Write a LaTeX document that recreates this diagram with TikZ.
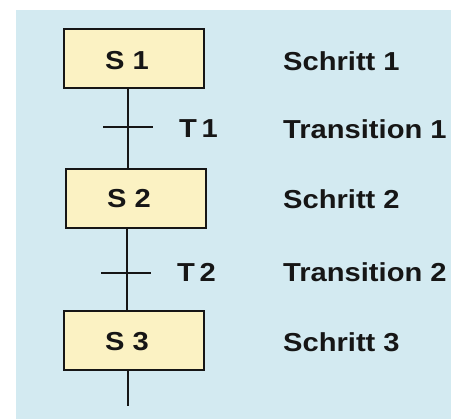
\documentclass[tikz,border=0pt]{standalone}
\usepackage{fontspec}
\setmainfont{Liberation Sans}[FakeStretch=1.12]
\definecolor{panel}{HTML}{D3EAF1}
\definecolor{stepfill}{HTML}{FBF2C3}
\definecolor{ink}{HTML}{161616}
\begin{document}
\begin{tikzpicture}[x=1pt,y=-1pt,
  stepbox/.style={draw=ink,line width=2pt,fill=stepfill,minimum width=140pt,minimum height=59pt,inner sep=0pt},
  txt/.style={font=\fontsize{26}{28}\selectfont\bfseries,text=ink,inner sep=0pt},
  flow/.style={draw=ink,line width=2pt}]
  % page and panel
  \useasboundingbox (0,0) rectangle (451,419);
  \fill[white] (0,0) rectangle (451,419);
  \fill[panel] (16,10) rectangle (451,419);

  % steps
  \node[stepbox] (S1) at (134,58.5) {};
  \node[stepbox] (S2) at (136,198.5) {};
  \node[stepbox] (S3) at (133.5,341) {};
  \node[txt] (S1t) at (127,61) {S 1};
  \node[txt] (S2t) at (129,199) {S 2};
  \node[txt] (S3t) at (127,342) {S 3};

  % spine of the chain
  \coordinate (col) at (128,0);
  \coordinate (tr1) at (128,127);
  \coordinate (tr2) at (127,273);
  \coordinate (tail) at (128,406);
  \draw[flow] (S1.south -| col) -- (S2.north -| col);
  \draw[flow] (S2.south -| tr2) -- (S3.north -| tr2);
  \draw[flow] (S3.south -| col) -- (tail);

  % transition bars
  \draw[flow] ([xshift=-25pt]tr1) coordinate (b1l) -- ([xshift=25pt]tr1) coordinate (b1r);
  \draw[flow] ([xshift=-26pt]tr2) coordinate (b2l) -- ([xshift=24pt]tr2) coordinate (b2r);
  \node[txt,anchor=west] (T1) at (179,129) {T\hspace{0.18em}1};
  \node[txt,anchor=west] (T2) at (177,272) {T\hspace{0.18em}2};

  % legend column
  \node[txt,anchor=west] (L1) at (283,61) {Schritt 1};
  \node[txt,anchor=west] (L2) at (283,129) {Transition 1};
  \node[txt,anchor=west] (L3) at (283,199) {Schritt 2};
  \node[txt,anchor=west] (L4) at (283,272) {Transition 2};
  \node[txt,anchor=west] (L5) at (283,342) {Schritt 3};
\end{tikzpicture}
\end{document}
